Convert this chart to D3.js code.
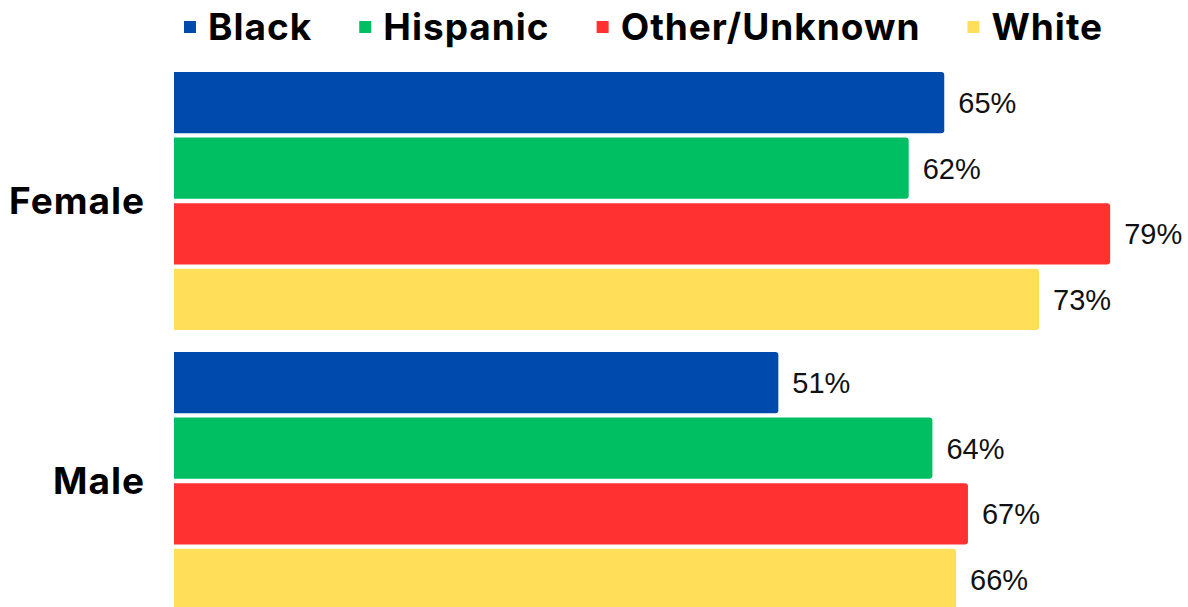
<!DOCTYPE html>
<html>
<head>
<meta charset="utf-8">
<script src="https://cdn.jsdelivr.net/npm/d3@7"></script>
<style>
  html, body { margin: 0; padding: 0; background: #fff; overflow: hidden; }
  svg { display: block; }
</style>
</head>
<body>
<script>
const width = 1188;
const height = 607;

const genders = ["Female", "Male"];
const races = ["Black", "Hispanic", "Other/Unknown", "White"];
const colors = ["#004AAD", "#00BF63", "#FF3131", "#FFDE59"];
const female = [65, 62, 79, 73];
const male = [51, 64, 67, 66];

const data = genders.flatMap((g, gi) =>
  races.map((r, ri) => ({ gender: g, race: r, value: (gi === 0 ? female : male)[ri] }))
);

const x = d3.scaleLinear().domain([0, 100]).range([174, 1359]);

const y0 = d3.scaleBand().domain(genders).range([72, 610]).paddingInner(0.0786);
const y1 = d3.scaleBand().domain(races).range([0, y0.bandwidth()]).paddingInner(0.067);
const color = d3.scaleOrdinal().domain(races).range(colors);

const svg = d3
  .select("body")
  .append("svg")
  .attr("width", width)
  .attr("height", height);

// bars with rounded right corners only
function barPath(x0, y, w, h, r) {
  r = Math.min(r, w / 2, h / 2);
  return `M${x0},${y}H${x0 + w - r}Q${x0 + w},${y} ${x0 + w},${y + r}` +
    `V${y + h - r}Q${x0 + w},${y + h} ${x0 + w - r},${y + h}H${x0}Z`;
}

const group = svg
  .append("g")
  .selectAll("g")
  .data(genders)
  .join("g")
  .attr("transform", (d) => `translate(0,${y0(d)})`);

group
  .selectAll("path")
  .data((g) => data.filter((d) => d.gender === g))
  .join("path")
  .attr("fill", (d) => color(d.race))
  .attr("d", (d) => barPath(x(0), y1(d.race), x(d.value) - x(0), y1.bandwidth(), 3));

group
  .selectAll("text.val")
  .data((g) => data.filter((d) => d.gender === g))
  .join("text")
  .attr("class", "val")
  .attr("x", (d) => x(d.value) + 14)
  .attr("y", (d) => y1(d.race) + y1.bandwidth() / 2)
  .attr("dy", "0.36em")
  .attr("font-family", "'Liberation Sans', Arial, sans-serif")
  .attr("font-size", 29)
  .attr("fill", "#111")
  .text((d) => d.value + "%");

// category labels
svg
  .append("g")
  .selectAll("text")
  .data(genders)
  .join("text")
  .attr("x", 145)
  .attr("y", (d) => y0(d) + y0.bandwidth() / 2)
  .attr("dy", "0.36em")
  .attr("text-anchor", "end")
  .attr("font-family", "Inter, 'Liberation Sans', sans-serif")
  .attr("font-weight", "bold")
  .attr("font-size", 37)
  .attr("letter-spacing", 1)
  .attr("fill", "#000")
  .text((d) => d);

// legend
const legend = svg.append("g").attr("transform", "translate(184,27)");
let lx = 0;
races.forEach((r, i) => {
  const item = legend.append("g").attr("transform", `translate(${lx},0)`);
  item
    .append("rect")
    .attr("x", 0)
    .attr("y", -6)
    .attr("width", 12)
    .attr("height", 12)
    .attr("fill", color(r));
  const t = item
    .append("text")
    .attr("x", 24)
    .attr("y", 0)
    .attr("dy", "0.36em")
    .attr("font-family", "Inter, 'Liberation Sans', sans-serif")
    .attr("font-weight", "bold")
    .attr("font-size", 37)
    .attr("letter-spacing", 1)
    .attr("fill", "#000")
    .text(r);
  lx += 24 + t.node().getComputedTextLength() + 47;
});
</script>
</body>
</html>
